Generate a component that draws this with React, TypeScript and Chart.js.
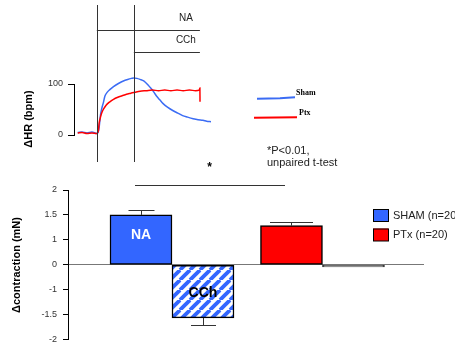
import React, { useEffect, useRef } from 'react';
import { Chart, registerables } from 'chart.js';

Chart.register(...registerables);

const FONT = '"Liberation Sans", Arial, Helvetica, sans-serif';
const SERIF = '"Liberation Serif", "Times New Roman", serif';
const BLUE_TRACE = '#3b6cf4';
const BAR_BLUE = '#3366ff';
const RED = '#ff0000';
const TXT = '#222';

// ---- Top panel: ΔHR traces (time in s, relative to NA addition) ----
const shamTime = [-31, -24, -16, -8, 0, 2, 3.7, 6, 8, 10.5, 13, 17, 21, 27, 35, 43, 50, 56, 60, 65, 70, 76, 83, 88, 93, 97, 102, 107, 115, 123, 131, 139, 147, 156, 164, 172, 178, 185];
const shamHR = [5, 6, 4, 6, 3, 5, 15, 40, 52, 63, 76, 84, 89, 95, 101, 106, 109, 111, 112, 111, 109, 106, 98, 91, 83, 76, 69, 62, 54, 48, 43, 38, 35, 32, 30, 29, 27, 26];
const ptxTime = [-31, -24, -16, -8, 0, 2.5, 3.7, 5.5, 7.6, 10, 13, 17, 21, 27, 34, 41, 48, 55, 62, 70, 80, 90, 100, 110, 120, 130, 140, 150, 160, 166, 167, 167.2];
const ptxHR = [4, 5, 3, 4, 3, 8, 23, 33, 42, 49, 55, 61, 65, 70, 74, 77, 80, 82, 84, 86, 87, 88, 87, 88, 87, 88, 87, 88, 87, 88, 92, 65];
const hrTicks = [0, 100];
const drugNames = ['NA', 'CCh'];
const drugStart = [0, 60];
const drugEnd = 167;
const traceLegend = ['Sham', 'Ptx'];

// ---- Bottom panel: Δcontraction bars (axis units; tick labels below) ----
const groupNames = ['SHAM (n=20)', 'PTx (n=20)'];
const groupPos = [1, 2];
const naValues = [2.0, 1.57];
const naErrors = [0.19, 0.13];
const cchValues = [-2.13, -0.09];
const cchErrors = [0.27, 0];
const yTickValues = [-3, -2, -1, 0, 1, 2, 3];
const yTickLabels = ['-2', '-1.5', '-1', '0', '1', '1.5', '2'];

function makeHatch(): CanvasPattern | string {
  const s = 10;
  const c = document.createElement('canvas');
  c.width = s;
  c.height = s;
  const g = c.getContext('2d');
  if (!g) return BAR_BLUE;
  g.fillStyle = '#fff';
  g.fillRect(0, 0, s, s);
  g.strokeStyle = BAR_BLUE;
  g.lineWidth = 3.8;
  for (const k of [-1, 0, 1]) {
    g.beginPath();
    g.moveTo(k * s, s);
    g.lineTo(k * s + s, 0);
    g.stroke();
  }
  const p = g.createPattern(c, 'repeat');
  return p || BAR_BLUE;
}

const topPlugin = {
  id: 'topDecor',
  afterDraw(chart: any) {
    const ctx = chart.ctx;
    const xs = chart.scales.x;
    const ys = chart.scales.y;
    ctx.save();
    ctx.strokeStyle = '#000';
    ctx.lineWidth = 1;
    // y bracket
    const ax = Math.round(chart.chartArea.left) + 0.5;
    ctx.beginPath();
    ctx.moveTo(ax, ys.getPixelForValue(hrTicks[1]));
    ctx.lineTo(ax, ys.getPixelForValue(hrTicks[0]));
    ctx.stroke();
    ctx.strokeStyle = '#333';
    // vertical drug-addition lines
    drugStart.forEach((t) => {
      const px = Math.round(xs.getPixelForValue(t)) + 0.5;
      ctx.beginPath();
      ctx.moveTo(px, 5);
      ctx.lineTo(px, 162);
      ctx.stroke();
    });
    // drug bars
    const endPx = xs.getPixelForValue(drugEnd);
    const barY = [30.5, 52.5];
    const labY = [18, 40];
    ctx.fillStyle = TXT;
    ctx.font = `10px ${FONT}`;
    ctx.textAlign = 'center';
    ctx.textBaseline = 'middle';
    drugStart.forEach((t, i) => {
      const sp = xs.getPixelForValue(t);
      ctx.beginPath();
      ctx.moveTo(sp, barY[i]);
      ctx.lineTo(endPx, barY[i]);
      ctx.stroke();
      ctx.fillText(drugNames[i], endPx - 14, labY[i]);
    });
    // axis title
    ctx.save();
    ctx.translate(29, 119);
    ctx.rotate(-Math.PI / 2);
    ctx.font = `bold 11px ${FONT}`;
    ctx.fillStyle = '#000';
    ctx.fillText('\u0394HR (bpm)', 0, 0);
    ctx.restore();
    // trace legend
    ctx.lineWidth = 2;
    ctx.strokeStyle = BLUE_TRACE;
    ctx.beginPath();
    ctx.moveTo(257, 98.8);
    ctx.lineTo(280, 98.3);
    ctx.lineTo(295, 97.3);
    ctx.stroke();
    ctx.strokeStyle = RED;
    ctx.beginPath();
    ctx.moveTo(254, 117.8);
    ctx.lineTo(297, 117.3);
    ctx.stroke();
    ctx.fillStyle = '#000';
    ctx.font = `bold 8px ${SERIF}`;
    ctx.textAlign = 'left';
    ctx.fillText(traceLegend[0], 296, 93);
    ctx.fillText(traceLegend[1], 299, 113);
    // stats note
    ctx.fillStyle = TXT;
    ctx.font = `11px ${FONT}`;
    ctx.fillText('*P<0.01,', 267, 150.5);
    ctx.fillText('unpaired t-test', 267, 162.5);
    ctx.font = `bold 12px ${FONT}`;
    ctx.textAlign = 'center';
    ctx.fillStyle = '#000';
    ctx.fillText('*', 209.5, 168);
    ctx.restore();
  },
};

const bottomPlugin = {
  id: 'bottomDecor',
  afterDatasetsDraw(chart: any) {
    const ctx = chart.ctx;
    const ys = chart.scales.y;
    const vals = [naValues, cchValues];
    const errs = [naErrors, cchErrors];
    const caps = [[26, 43], [25, 0]];
    ctx.save();
    ctx.strokeStyle = '#333';
    ctx.lineWidth = 1;
    [0, 1].forEach((di) => {
      const meta = chart.getDatasetMeta(di);
      meta.data.forEach((el: any, i: number) => {
        const e = errs[di][i];
        if (!e) return;
        const v = vals[di][i];
        const sign = v >= 0 ? 1 : -1;
        const yEnd = Math.round(ys.getPixelForValue(v + sign * e)) + 0.5;
        const x = Math.round(el.x) + 0.5;
        ctx.beginPath();
        ctx.moveTo(x, el.y);
        ctx.lineTo(x, yEnd);
        ctx.moveTo(x - caps[di][i] / 2, yEnd);
        ctx.lineTo(x + caps[di][i] / 2, yEnd);
        ctx.stroke();
      });
    });
    // bar labels
    ctx.font = `bold 14px ${FONT}`;
    ctx.textAlign = 'center';
    ctx.textBaseline = 'middle';
    const naEl: any = chart.getDatasetMeta(0).data[0];
    ctx.fillStyle = '#fff';
    ctx.fillText(drugNames[0], naEl.x, (naEl.y + naEl.base) / 2 - 4);
    const cEl: any = chart.getDatasetMeta(1).data[0];
    ctx.fillStyle = '#000';
    ctx.fillText(drugNames[1], cEl.x, (cEl.y + cEl.base) / 2 + 2);
    // significance bracket
    ctx.strokeStyle = '#333';
    ctx.beginPath();
    ctx.moveTo(135, 185.5);
    ctx.lineTo(285, 185.5);
    ctx.stroke();
    // legend
    const colors = [BAR_BLUE, RED];
    const ly = [209, 228.5];
    ctx.font = `11px ${FONT}`;
    ctx.textAlign = 'left';
    groupNames.forEach((n, i) => {
      ctx.fillStyle = colors[i];
      ctx.fillRect(373, ly[i], 15.5, 12.5);
      ctx.strokeStyle = '#000';
      ctx.strokeRect(373.5, ly[i] + 0.5, 15, 12);
      ctx.fillStyle = TXT;
      ctx.fillText(n, 393, ly[i] + 6.5);
    });
    // axis title
    ctx.save();
    ctx.translate(17, 265);
    ctx.rotate(-Math.PI / 2);
    ctx.font = `bold 11px ${FONT}`;
    ctx.fillStyle = '#000';
    ctx.textAlign = 'center';
    ctx.fillText('\u0394contraction (mN)', 0, 0);
    ctx.restore();
    ctx.restore();
  },
};

export default function App() {
  const topRef = useRef<HTMLCanvasElement>(null);
  const botRef = useRef<HTMLCanvasElement>(null);

  useEffect(() => {
    if (!topRef.current || !botRef.current) return;
    const top = new Chart(topRef.current, {
      type: 'line',
      data: {
        datasets: [
          {
            label: traceLegend[1],
            data: ptxTime.map((t, i) => ({ x: t, y: ptxHR[i] })),
            borderColor: RED,
            borderWidth: 1.5,
            pointRadius: 0,
            clip: false,
            cubicInterpolationMode: 'monotone',
          } as any,
          {
            label: traceLegend[0],
            data: shamTime.map((t, i) => ({ x: t, y: shamHR[i] })),
            borderColor: BLUE_TRACE,
            borderWidth: 1.5,
            pointRadius: 0,
            clip: false,
            cubicInterpolationMode: 'monotone',
          } as any,
        ],
      },
      options: {
        responsive: false,
        animation: false,
        layout: { padding: { left: 0, top: 84, right: 244, bottom: 216 } },
        plugins: { legend: { display: false }, tooltip: { enabled: false } },
        scales: {
          x: { type: 'linear', display: false, min: -37, max: 185 },
          y: {
            min: 0,
            max: 100,
            afterFit: (s: any) => {
              s.width = 74;
            },
            afterBuildTicks: (s: any) => {
              s.ticks = hrTicks.map((v) => ({ value: v }));
            },
            grid: { drawOnChartArea: false, drawTicks: true, tickLength: 6, color: '#000' },
            border: { display: true, color: '#000', width: 1 },
            ticks: { font: { family: FONT, size: 9 }, color: '#333', padding: 5 },
          },
        },
      } as any,
      plugins: [topPlugin],
    });

    const hatch = makeHatch();
    const bot = new Chart(botRef.current, {
      type: 'bar',
      data: {
        datasets: [
          {
            label: drugNames[0],
            data: groupPos.map((x, i) => ({ x, y: naValues[i] })),
            backgroundColor: [BAR_BLUE, RED],
            borderColor: ['#000', '#000'],
            borderWidth: 1.5,
            borderSkipped: false,
            barThickness: 62,
          } as any,
          {
            label: drugNames[1],
            data: groupPos.map((x, i) => ({ x, y: cchValues[i] })),
            backgroundColor: [hatch, '#8a8a8a'],
            borderColor: ['#000', '#333'],
            borderWidth: 1.5,
            borderSkipped: false,
            barThickness: 62,
          } as any,
        ],
      },
      options: {
        responsive: false,
        animation: false,
        layout: { padding: { left: 0, top: 190, right: 32, bottom: 7 } },
        plugins: { legend: { display: false }, tooltip: { enabled: false } },
        scales: {
          x: {
            type: 'linear',
            min: 0.309,
            max: 2.668,
            offset: false,
            position: { y: 0 },
            afterBuildTicks: (s: any) => {
              s.ticks = groupPos.map((v) => ({ value: v }));
            },
            ticks: { display: false },
            grid: { display: false },
            border: { display: true, color: '#777', width: 1 },
          },
          y: {
            min: -3,
            max: 3,
            afterFit: (s: any) => {
              s.width = 68;
            },
            afterBuildTicks: (s: any) => {
              s.ticks = yTickValues.map((v) => ({ value: v }));
            },
            ticks: {
              callback: (v: any) => yTickLabels[yTickValues.indexOf(Number(v))],
              font: { family: FONT, size: 9 },
              color: '#333',
              padding: 6,
            },
            grid: { drawOnChartArea: false, drawTicks: true, tickLength: 5, color: '#000' },
            border: { display: true, color: '#000', width: 1 },
          },
        },
      } as any,
      plugins: [bottomPlugin],
    });

    return () => {
      top.destroy();
      bot.destroy();
    };
  }, []);

  const cs: React.CSSProperties = { position: 'absolute', left: 0, top: 0, width: 455, height: 351 };
  return (
    <div style={{ position: 'fixed', left: 0, top: 0, width: 455, height: 351, background: '#fff' }}>
      <canvas ref={topRef} width={455} height={351} style={cs} />
      <canvas ref={botRef} width={455} height={351} style={cs} />
    </div>
  );
}
